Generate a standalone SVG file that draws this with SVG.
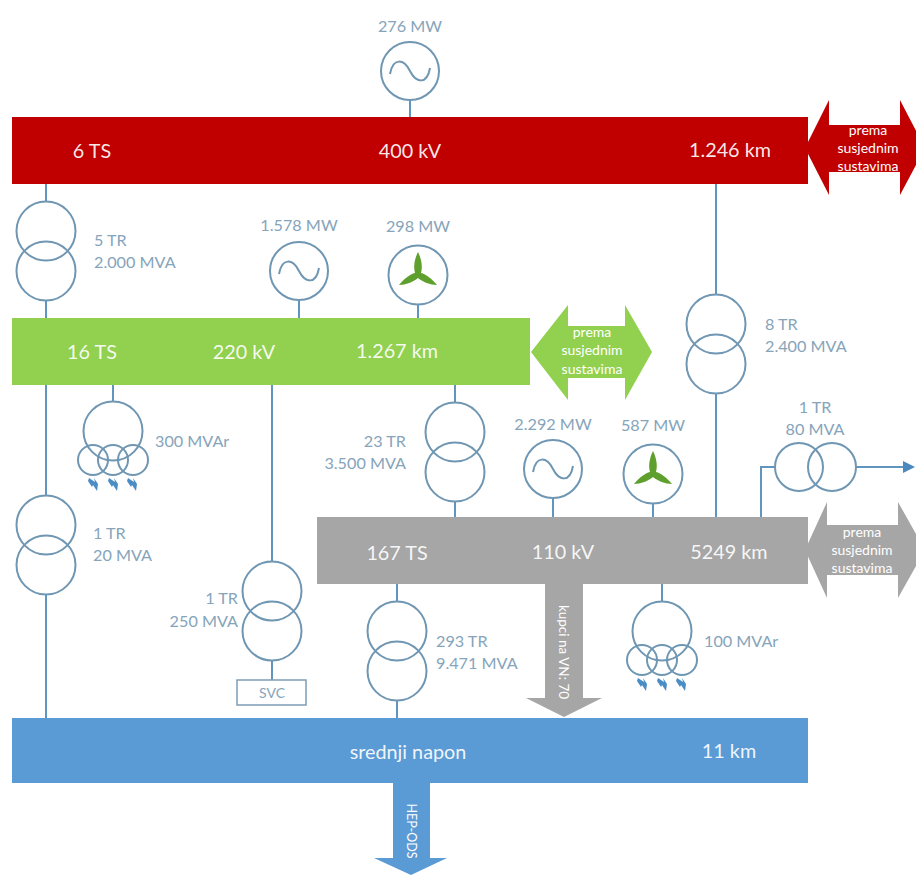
<svg xmlns="http://www.w3.org/2000/svg" width="916" height="875" viewBox="0 0 916 875">
<style>
text{font-family:Lato,"Liberation Sans",sans-serif}
.bt{font-size:19.800px;fill:#fff;text-anchor:middle;fill-opacity:.92}
.lb{font-size:16.200px;fill:#86a4ba}
.m{text-anchor:middle}.e{text-anchor:end}
.sm{font-size:14px;fill:#fff;text-anchor:middle}
.v{font-size:13.500px;fill:#fff;text-anchor:middle}
.c{fill:none;stroke:#6f96b2;stroke-width:2}
.l{fill:none;stroke:#5f95bf;stroke-width:2}
.w{fill:#5f9f2e}
</style>
<defs>
<g id="gen"><circle class="c" r="29"/><path class="c" d="M-20 3C-17-14-6-12 0 0S17 14 20-3"/></g>
<g id="wind"><circle class="c" r="29.500"/><path class="w" d="M0-23C3-17 5-9 3-2C8-1 14 4 19 10C12 10 5 7 0 3C-5 7-12 10-19 10C-14 4-8-1-3-2C-5-9-3-17 0-23Z"/></g>
<g id="tr"><circle class="c" r="29.500" cy="-20"/><circle class="c" r="29.500" cy="20"/></g>
<g id="sh"><circle class="c" r="29.500"/><circle class="c" cx="-20" cy="29" r="15"/><circle class="c" cx="0" cy="29" r="15"/><circle class="c" cx="20" cy="29" r="15"/>
<path fill="#4a8cc4" d="M-24 47l6 4-1-4 4 6-1 7-4-6-1 2-4-6z M-4 47l6 4-1-4 4 6-1 7-4-6-1 2-4-6z M15 47l6 4-1-4 4 6-1 7-4-6-1 2-4-6z"/></g>
</defs>
<rect width="916" height="875" fill="#fff"/>
<g id="connectors">
<path class="l" d="M410 100V117M46 184V201M46 301V318M299 300V318M418 304V318M113 385V401M46 385V495M46 595V718M272 385V562M272 660V680M397 584V601M397 701V718M455 385V402M455 502V517M553 498V517M653 503V517M716 184V295M716 393V517M662 584V601M761 517V467H775M855 467H905"/>
<path fill="#4a88bd" d="M903 461L915 467L903 473Z"/>
</g>
<g id="bus-400"><rect x="12" y="117" width="796" height="67" fill="#c00000"/><text class="bt" x="92" y="158">6 TS</text><text class="bt" x="410" y="158">400 kV</text><text class="bt" x="730" y="157">1.246 km</text></g>
<g id="arrow-400"><path fill="#c00000" d="M805 148L829 100V125H900V100L925 148L900 195V172H829V195Z"/><text class="sm" x="868" y="135">prema</text><text class="sm" x="868" y="153">susjednim</text><text class="sm" x="868" y="171">sustavima</text></g>
<g id="bus-220"><rect x="12" y="318" width="518" height="67" fill="#92d050"/><text class="bt" x="92" y="359">16 TS</text><text class="bt" x="244" y="359">220 kV</text><text class="bt" x="397" y="358">1.267 km</text></g>
<g id="arrow-220"><path fill="#92d050" d="M531 352L568 305V326H625V305L652 352L625 400V378H568V400Z"/><text class="sm" x="592" y="337">prema</text><text class="sm" x="592" y="355">susjednim</text><text class="sm" x="592" y="374">sustavima</text></g>
<g id="bus-110"><rect x="317" y="517" width="491" height="67" fill="#a6a6a6"/><text class="bt" x="397" y="560">167 TS</text><text class="bt" x="563" y="559">110 kV</text><text class="bt" x="729" y="559">5249 km</text></g>
<g id="arrow-110"><path fill="#a6a6a6" d="M805 550L827 502V525H898V502L925 550L898 598V575H827V598Z"/><text class="sm" x="862" y="537">prema</text><text class="sm" x="862" y="555">susjednim</text><text class="sm" x="862" y="573">sustavima</text></g>
<g id="arrow-vn"><path fill="#a6a6a6" d="M545 584H583V698H602L564 717L526 698H545Z"/><text class="v" transform="translate(559 652) rotate(90)">kupci na VN: 70</text></g>
<g id="bus-mv"><rect x="12" y="718" width="796" height="65" fill="#5b9bd5"/><text class="bt" x="408" y="759">srednji napon</text><text class="bt" x="729" y="758">11 km</text></g>
<g id="arrow-ods"><path fill="#5b9bd5" d="M393 783H430V858H447L411 875L374 858H393Z"/><text class="v" transform="translate(407 831) rotate(90)" style="font-size:12.500px">HEP-ODS</text></g>
<g id="gen-276"><use href="#gen" x="410" y="71"/><text class="lb m" x="410" y="32">276 MW</text></g>
<g id="tr-5"><use href="#tr" x="46" y="251"/><text class="lb" x="94" y="246">5 TR</text><text class="lb" x="94" y="268">2.000 MVA</text></g>
<g id="gen-1578"><use href="#gen" x="299" y="271"/><text class="lb m" x="299" y="231">1.578 MW</text></g>
<g id="wind-298"><use href="#wind" x="418" y="275"/><text class="lb m" x="418" y="232">298 MW</text></g>
<g id="shunt-300"><use href="#sh" x="113" y="431"/><text class="lb" x="155" y="447">300 MVAr</text></g>
<g id="tr-1-20"><use href="#tr" x="46" y="545"/><text class="lb" x="93" y="539">1 TR</text><text class="lb" x="93" y="561">20 MVA</text></g>
<g id="tr-1-250"><use href="#tr" x="272" y="611"/><text class="lb e" x="238" y="604">1 TR</text><text class="lb e" x="238" y="627">250 MVA</text></g>
<g id="svc"><rect x="237" y="680" width="69" height="25" fill="#fff" stroke="#7d9db5" stroke-width="1.500"/><text class="lb m" x="272" y="698" style="font-size:14px">SVC</text></g>
<g id="tr-293"><use href="#tr" x="397" y="651"/><text class="lb" x="436" y="647">293 TR</text><text class="lb" x="436" y="669">9.471 MVA</text></g>
<g id="tr-23"><use href="#tr" x="455" y="452"/><text class="lb e" x="406" y="447">23 TR</text><text class="lb e" x="406" y="469">3.500 MVA</text></g>
<g id="gen-2292"><use href="#gen" x="553" y="469"/><text class="lb m" x="553" y="430">2.292 MW</text></g>
<g id="wind-587"><use href="#wind" x="653" y="474"/><text class="lb m" x="653" y="431">587 MW</text></g>
<g id="tr-8"><use href="#tr" x="716" y="344"/><text class="lb" x="765" y="330">8 TR</text><text class="lb" x="765" y="352">2.400 MVA</text></g>
<g id="tr-1-80"><circle class="c" cx="799" cy="467" r="24"/><circle class="c" cx="832" cy="467" r="24"/><text class="lb m" x="815" y="413">1 TR</text><text class="lb m" x="815" y="435">80 MVA</text></g>
<g id="shunt-100"><use href="#sh" x="662" y="631"/><text class="lb" x="704" y="647">100 MVAr</text></g>
</svg>
